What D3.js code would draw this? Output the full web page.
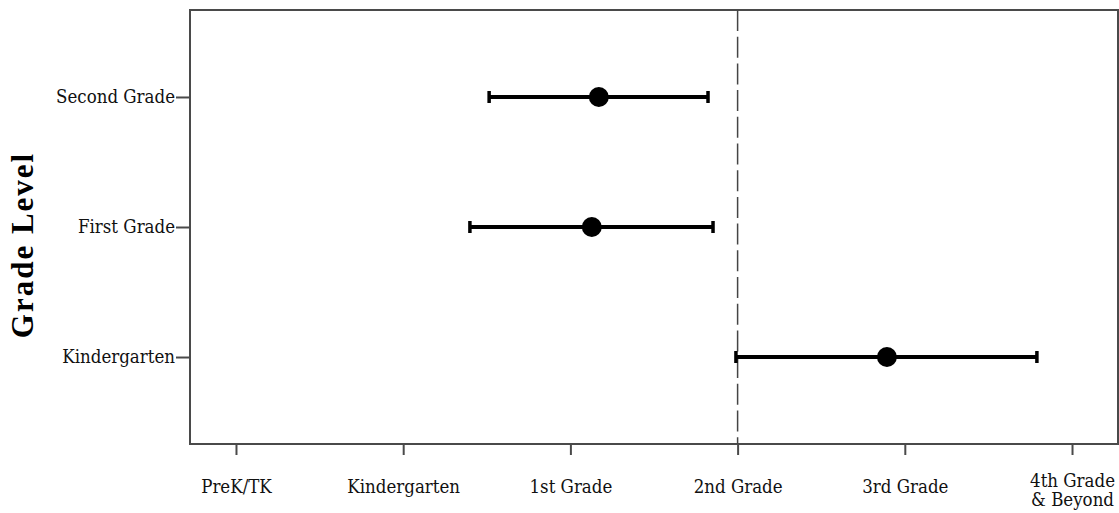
<!DOCTYPE html>
<html>
<head>
<meta charset="utf-8">
<script src="https://cdn.jsdelivr.net/npm/d3@7"></script>
<style>
  html, body { margin: 0; padding: 0; background: #fff; }
  svg { display: block; }
  .tick-label { font-family: "DejaVu Serif Condensed", "DejaVu Serif", serif; font-size: 18.5px; fill: #111; }
</style>
</head>
<body>
<svg id="chart" width="1119" height="513"></svg>
<script>
// Grade levels (rows, top to bottom) and their mean placement with interval bounds.
// Placement is coded 1 = PreK/TK ... 6 = 4th Grade & Beyond.
const gradeLevels = ["Second Grade", "First Grade", "Kindergarten"];
const means = [3.17, 3.128, 4.893];
const lower = [2.514, 2.399, 3.99];
const upper = [3.823, 3.853, 5.79];

const placementCodes = [1, 2, 3, 4, 5, 6];
const placementLabels = ["PreK/TK", "Kindergarten", "1st Grade", "2nd Grade", "3rd Grade", "4th Grade\n& Beyond"];
const referenceValue = 4;

const width = 1119, height = 513;
const margin = { left: 190, right: 1, top: 10, bottom: 69 };

const svg = d3.select("#chart");

const x = d3.scaleLinear()
  .domain([0.725, 6.275])
  .range([margin.left, width - margin.right]);

const y = d3.scalePoint()
  .domain(gradeLevels)
  .range([margin.top, height - margin.bottom])
  .padding(0.669);

const frameColor = "#4a4a4a";

// Plot frame
svg.append("rect")
  .attr("x", margin.left)
  .attr("y", margin.top)
  .attr("width", width - margin.right - margin.left)
  .attr("height", height - margin.bottom - margin.top)
  .attr("fill", "none")
  .attr("stroke", frameColor)
  .attr("stroke-width", 2);

// Bottom axis
const xAxis = svg.append("g")
  .attr("transform", `translate(0,${height - margin.bottom})`)
  .call(d3.axisBottom(x).tickValues(placementCodes).tickSize(11).tickFormat(""));
xAxis.select(".domain").remove();
xAxis.selectAll(".tick line").attr("stroke", frameColor).attr("stroke-width", 2);

xAxis.selectAll(".tick").each(function(d, i) {
  const lines = placementLabels[i].split("\n");
  const t = d3.select(this).append("text")
    .attr("class", "tick-label")
    .attr("text-anchor", "middle");
  lines.forEach((ln, j) => {
    const base = lines.length > 1 ? 43 : 49;
    t.append("tspan").attr("x", 0).attr("y", base + j * 19).text(ln);
  });
});

// Left axis
const yAxis = svg.append("g")
  .attr("transform", `translate(${margin.left},0)`)
  .call(d3.axisLeft(y).tickSize(14).tickPadding(0));
yAxis.select(".domain").remove();
yAxis.selectAll(".tick line").attr("stroke", frameColor).attr("stroke-width", 2);
yAxis.selectAll(".tick text")
  .attr("class", "tick-label")
  .attr("x", -15)
  .attr("fill", "#111");

// Axis title
svg.append("text")
  .attr("transform", "translate(33,245) rotate(-90)")
  .attr("text-anchor", "middle")
  .attr("font-family", "Liberation Serif, serif")
  .attr("font-weight", "bold")
  .attr("font-size", 31)
  .attr("letter-spacing", 2)
  .attr("fill", "#000")
  .text("Grade Level");

// Dashed reference line at 2nd Grade
svg.append("line")
  .attr("x1", x(referenceValue)).attr("x2", x(referenceValue))
  .attr("y1", margin.top).attr("y2", height - margin.bottom)
  .attr("stroke", "#444")
  .attr("stroke-width", 1.5)
  .attr("stroke-dasharray", "21,5.7");

// Interval bars, caps and mean markers
const rows = gradeLevels.map((g, i) => ({ g, m: means[i], lo: lower[i], hi: upper[i] }));
const marks = svg.append("g");

marks.selectAll(".bar").data(rows).join("line")
  .attr("x1", d => x(d.lo)).attr("x2", d => x(d.hi))
  .attr("y1", d => y(d.g)).attr("y2", d => y(d.g))
  .attr("stroke", "#000").attr("stroke-width", 4);

["lo", "hi"].forEach(k => {
  marks.selectAll(".cap-" + k).data(rows).join("line")
    .attr("x1", d => x(d[k])).attr("x2", d => x(d[k]))
    .attr("y1", d => y(d.g) - 6).attr("y2", d => y(d.g) + 6)
    .attr("stroke", "#000").attr("stroke-width", 3.5);
});

marks.selectAll(".dot").data(rows).join("circle")
  .attr("cx", d => x(d.m)).attr("cy", d => y(d.g))
  .attr("r", 10)
  .attr("fill", "#000");
</script>
</body>
</html>
